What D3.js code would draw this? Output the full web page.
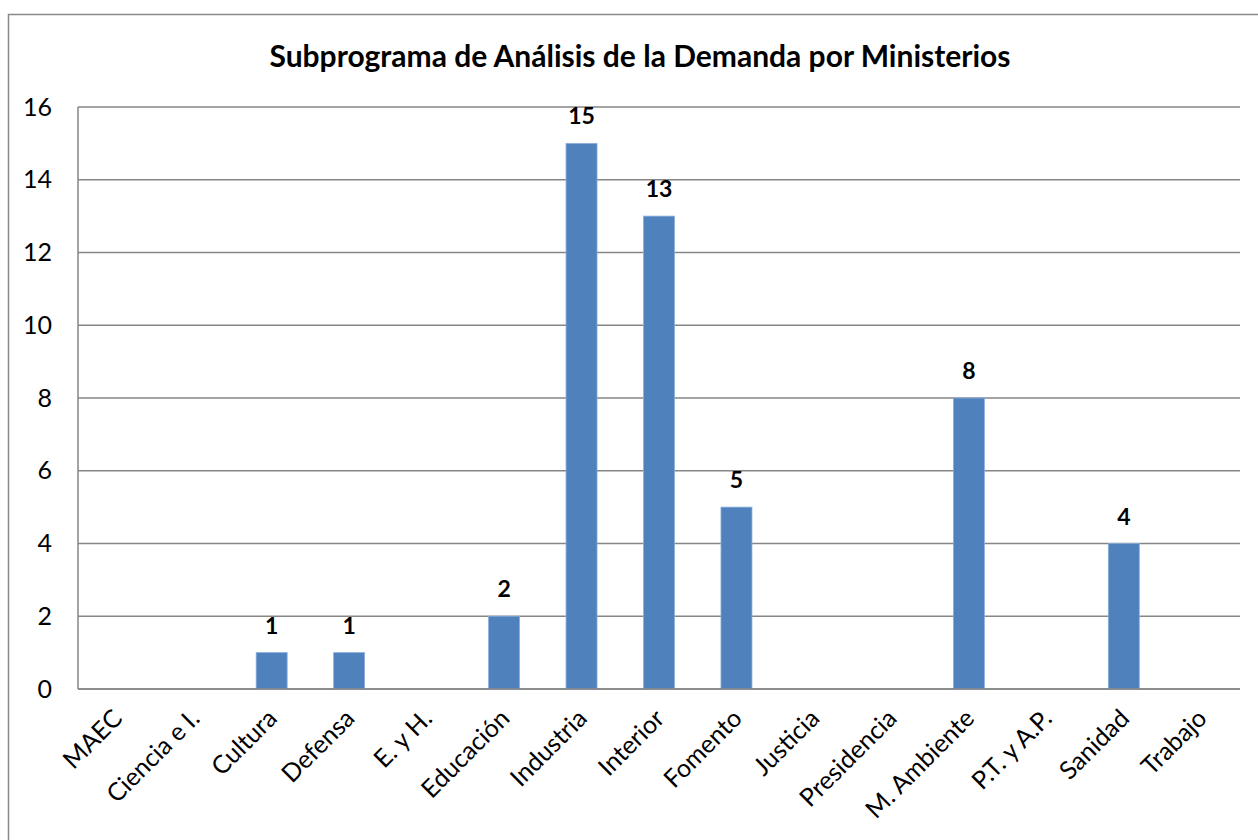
<!DOCTYPE html>
<html><head><meta charset="utf-8">
<script src="https://cdn.jsdelivr.net/npm/d3@7"></script>
<style>html,body{margin:0;padding:0;background:#fff;overflow:hidden}</style>
</head><body>
<script>
const categories = ["MAEC","Ciencia e I.","Cultura","Defensa","E. y H.","Educación","Industria","Interior","Fomento","Justicia","Presidencia","M. Ambiente","P.T. y A.P.","Sanidad","Trabajo"];
const values = [0,0,1,1,0,2,15,13,5,0,0,8,0,4,0];
const yTicks = [0,2,4,6,8,10,12,14,16];
const title = "Subprograma de Análisis de la Demanda por Ministerios";

const W = 1258, H = 840;
const m = {left:78, right:1240, top:107, bottom:689};
const font = "Lato, 'Open Sans', sans-serif";

const svg = d3.select("body").append("svg").attr("width",W).attr("height",H);

svg.append("rect").attr("x",8.5).attr("y",14.5).attr("width",1270).attr("height",840)
  .attr("fill","#fff").attr("stroke","#888").attr("stroke-width",1.5);

const x = d3.scaleBand().domain(categories).range([m.left,m.right]).paddingInner(0.6).paddingOuter(0.3);
const y = d3.scaleLinear().domain([0,16]).range([m.bottom,m.top]);

// gridlines
svg.append("g").selectAll("line").data(yTicks).join("line")
  .attr("x1",m.left).attr("x2",m.right)
  .attr("y1",d=>y(d)).attr("y2",d=>y(d))
  .attr("stroke","#868686").attr("stroke-width",1.5);

// y axis line
svg.append("line").attr("x1",m.left).attr("x2",m.left).attr("y1",m.top).attr("y2",m.bottom)
  .attr("stroke","#868686").attr("stroke-width",1.5);

// y axis labels
const yAxis = d3.axisLeft(y).tickValues(yTicks).tickSize(0).tickPadding(26);
const yg = svg.append("g").attr("transform",`translate(${m.left},0)`).call(yAxis);
yg.select(".domain").remove();
yg.selectAll("text").attr("font-family",font).attr("font-size",25).attr("fill","#000");

// bars
svg.append("g").selectAll("rect").data(values).join("rect")
  .attr("x",(d,i)=>x(categories[i]))
  .attr("width",x.bandwidth())
  .attr("y",d=>y(d))
  .attr("height",d=>y(0)-y(d))
  .attr("fill","#4F81BD")
  .attr("stroke","#8AAEDC").attr("stroke-width",0.8)
  .attr("display",d=>d>0?null:"none");

// redraw baseline over bars
svg.append("line").attr("x1",m.left).attr("x2",m.right).attr("y1",y(0)).attr("y2",y(0))
  .attr("stroke","#868686").attr("stroke-width",1.5);

// data labels
svg.selectAll(".dl").data(values.map((v,i)=>({v,c:categories[i]})).filter(d=>d.v>0)).join("text")
  .attr("class","dl")
  .attr("x",d=>x(d.c)+x.bandwidth()/2)
  .attr("y",d=>y(d.v)-19)
  .attr("text-anchor","middle")
  .attr("font-family",font).attr("font-weight","bold").attr("font-size",23)
  .text(d=>d.v);

// x axis labels
const xAxis = d3.axisBottom(x).tickSize(0).tickPadding(0);
const xg = svg.append("g").attr("transform",`translate(0,${m.bottom})`).call(xAxis);
xg.select(".domain").remove();
xg.selectAll("text")
  .attr("font-family",font).attr("font-size",25).attr("fill","#000")
  .attr("text-anchor","end")
  .attr("dy",null).attr("y",null)
  .attr("transform","translate(7,31) rotate(-45)");

// title
svg.append("text").attr("x",640).attr("y",67).attr("text-anchor","middle")
  .attr("font-family",font).attr("font-weight","bold").attr("font-size",30)
  .text(title);
</script>
</body></html>
